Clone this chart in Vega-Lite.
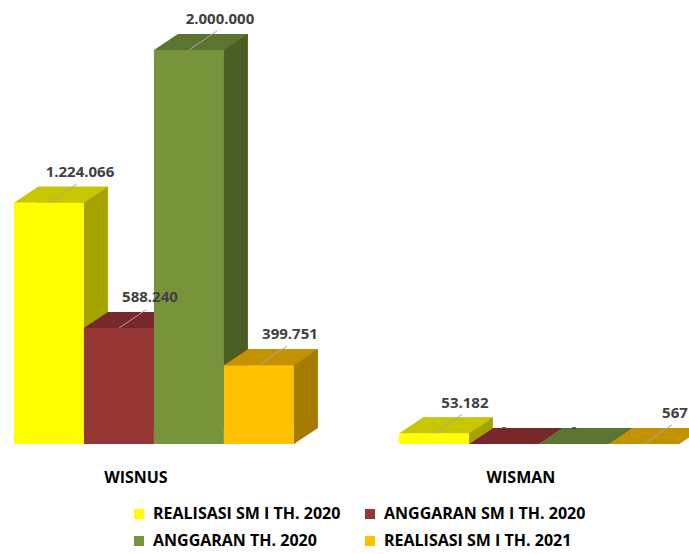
{
  "$schema": "https://vega.github.io/schema/vega-lite/v6.json",
  "width": 689,
  "height": 444,
  "autosize": {"type": "none"},
  "padding": {"left": 0, "top": 0, "right": 0, "bottom": 110},
  "background": "white",
  "config": {"view": {"stroke": null}},
  "data": {
    "values": [
      {"kategori": "WISNUS", "seri": "REALISASI SM I TH. 2020", "nilai": 1224066},
      {"kategori": "WISNUS", "seri": "ANGGARAN SM I TH. 2020", "nilai": 588240},
      {"kategori": "WISNUS", "seri": "ANGGARAN TH. 2020", "nilai": 2000000},
      {"kategori": "WISNUS", "seri": "REALISASI SM I TH. 2021", "nilai": 399751},
      {"kategori": "WISMAN", "seri": "REALISASI SM I TH. 2020", "nilai": 53182},
      {"kategori": "WISMAN", "seri": "ANGGARAN SM I TH. 2020", "nilai": 0},
      {"kategori": "WISMAN", "seri": "ANGGARAN TH. 2020", "nilai": 0},
      {"kategori": "WISMAN", "seri": "REALISASI SM I TH. 2021", "nilai": 567}
    ]
  },
  "transform": [
    {"calculate": "datum.nilai == 0 ? '-' : replace(format(datum.nilai, ','), /,/g, '.')", "as": "label"}
  ],
  "encoding": {
    "x": {
      "field": "kategori", "type": "nominal", "sort": ["WISNUS", "WISMAN"],
      "scale": {"paddingInner": 0.2727, "paddingOuter": 0.0312, "align": 0.58},
      "axis": {"title": null, "domain": false, "ticks": false, "labelAngle": 0, "labelPadding": 25, "labelOffset": -18, "labelFont": "Open Sans", "labelFontWeight": "bold", "labelFontSize": 16, "labelColor": "#000000"}
    }
  },
  "layer": [
    {
      "mark": {"type": "bar", "yOffset": -16, "y2Offset": -16},
      "encoding": {
        "xOffset": {
          "field": "seri", "type": "nominal",
          "scale": {"domain": ["REALISASI SM I TH. 2020", "ANGGARAN SM I TH. 2020", "ANGGARAN TH. 2020", "REALISASI SM I TH. 2021"], "range": [24, 304], "paddingInner": 0, "paddingOuter": 0}
        },
        "y": {"field": "nilai", "type": "quantitative", "scale": {"domain": [0, 2253807], "nice": false}, "axis": null},
        "color": {"field": "seri", "type": "nominal", "legend": null,
          "scale": {"domain": ["REALISASI SM I TH. 2020", "ANGGARAN SM I TH. 2020", "ANGGARAN TH. 2020", "REALISASI SM I TH. 2021"], "range": ["#a6a300", "#5e2020", "#4b5e26", "#a67c00"]}}
      }
    },
    {
      "layer": [
        {
          "mark": {"type": "point", "shape": "M35,-16 L59,-16 L35,0 Z", "size": 4, "filled": true, "opacity": 1, "strokeWidth": 0},
          "encoding": {
            "y": {"datum": 0},
            "color": {"field": "seri", "type": "nominal", "legend": null,
              "scale": {"domain": ["REALISASI SM I TH. 2020", "ANGGARAN SM I TH. 2020", "ANGGARAN TH. 2020", "REALISASI SM I TH. 2021"], "range": ["#a6a300", "#5e2020", "#4b5e26", "#a67c00"]}}
          }
        },
        {
          "mark": {"type": "point", "shape": "M-35,0 L-11,-16 L59,-16 L35,0 Z", "size": 4, "filled": true, "opacity": 1, "strokeWidth": 0},
          "encoding": {
            "y": {"field": "nilai", "type": "quantitative"},
            "color": {"field": "seri", "type": "nominal", "legend": null,
              "scale": {"domain": ["REALISASI SM I TH. 2020", "ANGGARAN SM I TH. 2020", "ANGGARAN TH. 2020", "REALISASI SM I TH. 2021"], "range": ["#c8c600", "#76282a", "#5b7430", "#c49200"]}}
          }
        },
        {
          "mark": {"type": "bar"},
          "encoding": {
            "y": {"field": "nilai", "type": "quantitative"},
            "color": {"field": "seri", "type": "nominal",
              "scale": {"domain": ["REALISASI SM I TH. 2020", "ANGGARAN SM I TH. 2020", "ANGGARAN TH. 2020", "REALISASI SM I TH. 2021"], "range": ["#ffff00", "#953735", "#77933c", "#ffc000"]},
              "legend": {"title": null, "orient": "none", "direction": "horizontal", "legendX": 131, "legendY": 506, "columns": 2, "columnPadding": 21, "rowPadding": 11, "symbolType": "square", "symbolSize": 100, "symbolStrokeWidth": 0, "labelFont": "Open Sans", "labelFontWeight": "bold", "labelFontSize": 16, "labelColor": "#000000", "labelLimit": 400, "labelOffset": 6}
            }
          }
        },
        {
          "transform": [{"filter": "datum.nilai > 0"}],
          "mark": {"type": "point", "shape": "M0,0 L28,-19", "size": 4, "filled": false, "opacity": 1, "color": "#a6a6a6", "strokeWidth": 1},
          "encoding": {"y": {"field": "nilai", "type": "quantitative"}}
        },
        {
          "transform": [{"filter": "datum.nilai > 0"}],
          "mark": {"type": "text", "dx": 31, "dy": -31, "align": "center", "baseline": "middle", "font": "Open Sans", "fontWeight": "bold", "fontSize": 15, "color": "#404040"},
          "encoding": {
            "y": {"field": "nilai", "type": "quantitative"},
            "text": {"field": "label", "type": "nominal"}
          }
        },
        {
          "transform": [{"filter": "datum.nilai == 0"}],
          "mark": {"type": "text", "dx": 0, "dy": -17, "align": "center", "baseline": "middle", "font": "Open Sans", "fontWeight": "bold", "fontSize": 15, "color": "#404040"},
          "encoding": {
            "y": {"field": "nilai", "type": "quantitative"},
            "text": {"field": "label", "type": "nominal"}
          }
        }
      ],
      "encoding": {
        "xOffset": {
          "field": "seri", "type": "nominal",
          "scale": {"domain": ["REALISASI SM I TH. 2020", "ANGGARAN SM I TH. 2020", "ANGGARAN TH. 2020", "REALISASI SM I TH. 2021"], "paddingInner": 0, "paddingOuter": 0}
        }
      },
      "resolve": {"scale": {"color": "independent"}}
    }
  ],
  "resolve": {"scale": {"color": "independent", "xOffset": "independent"}}
}
